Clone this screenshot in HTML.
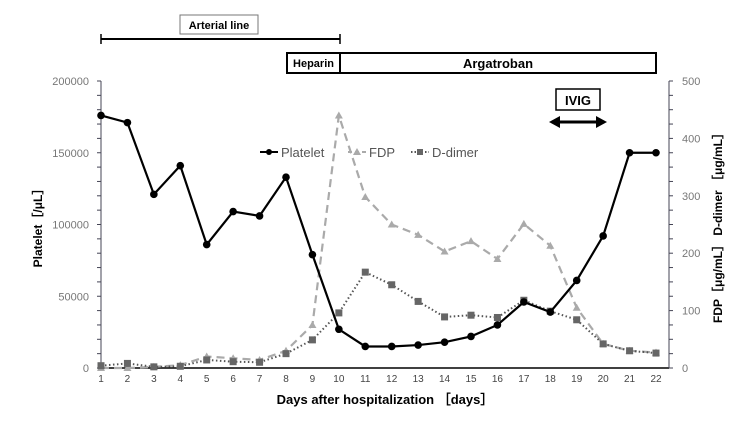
<!DOCTYPE html>
<html><head><meta charset="utf-8"><style>
body{margin:0;background:#fff;width:750px;height:422px;overflow:hidden}
svg{display:block;font-family:"Liberation Sans","DejaVu Sans",sans-serif}
</style></head><body>
<svg id="c" width="750" height="422">
<g>
<rect x="180" y="15" width="78" height="19" fill="#fff" stroke="#777" stroke-width="1"/>
<text x="219" y="29" font-size="11" font-weight="bold" text-anchor="middle">Arterial line</text>
<line x1="101" y1="39" x2="340" y2="39" stroke="#000" stroke-width="2"/>
<line x1="101" y1="34" x2="101" y2="44" stroke="#000" stroke-width="1.5"/>
<line x1="340" y1="34" x2="340" y2="44" stroke="#000" stroke-width="1.5"/>
</g>
<g>
<rect x="287" y="53" width="53" height="20" fill="#fff" stroke="#000" stroke-width="2"/>
<text x="313.5" y="67" font-size="11" font-weight="bold" text-anchor="middle">Heparin</text>
<rect x="340" y="53" width="316" height="20" fill="#fff" stroke="#000" stroke-width="2"/>
<text x="498" y="68" font-size="13" font-weight="bold" text-anchor="middle">Argatroban</text>
</g>
<g>
<rect x="556" y="89" width="44" height="21" fill="#fff" stroke="#000" stroke-width="1.5"/>
<text x="578" y="105" font-size="13" font-weight="bold" text-anchor="middle">IVIG</text>
<line x1="557" y1="122" x2="599" y2="122" stroke="#000" stroke-width="3"/>
<polygon points="549,122 560,116 560,128" fill="#000"/>
<polygon points="607,122 596,116 596,128" fill="#000"/>
</g>
<g font-size="13" fill="#555">
<line x1="260" y1="152" x2="278" y2="152" stroke="#000" stroke-width="2"/><circle cx="269" cy="152" r="3" fill="#000"/>
<text x="281" y="157">Platelet</text>
<line x1="348" y1="152" x2="366" y2="152" stroke="#aaa" stroke-width="2" stroke-dasharray="4,3"/><polygon points="357,148 361,155 353,155" fill="#aaa"/>
<text x="369" y="157">FDP</text>
<line x1="411" y1="152" x2="429" y2="152" stroke="#555" stroke-width="2" stroke-dasharray="1.5,2"/><rect x="417" y="149" width="6" height="6" fill="#666"/>
<text x="432" y="157">D-dimer</text>
</g>
<g id="axes"></g>
<g id="marks"></g>
<text transform="translate(42,225) rotate(-90)" font-size="12" font-weight="bold" text-anchor="middle">Platelet［/μL］</text>
<text transform="translate(722,225) rotate(-90)" font-size="12" font-weight="bold" text-anchor="middle">FDP［μg/mL］    D-dimer ［μg/mL］</text>
<text x="385" y="404" font-size="13" font-weight="bold" text-anchor="middle">Days after hospitalization ［days］</text>
</svg>
<script>
const days=[1,2,3,4,5,6,7,8,9,10,11,12,13,14,15,16,17,18,19,20,21,22];
const platelet=[176000,171000,121000,141000,86000,109000,106000,133000,79000,27000,15000,15000,16000,18000,22000,30000,46000,39000,61000,92000,150000,150000];
const fdp=[0,0,2,5,20,17,14,30,75,440,298,250,232,203,221,190,251,213,105,42,30,27];
const ddimer=[4,8,2,3,14,11,10,25,49,96,167,145,116,89,92,88,118,99,84,42,30,26];
const leftTicks=[0,50000,100000,150000,200000];
const rightTicks=[0,100,200,300,400,500];
const NS="http://www.w3.org/2000/svg";
const x0=101,x1=656,y0=368,y1=81;
const xs=d=>x0+(d-1)*(x1-x0)/21;
const yl=v=>y0-v/200000*(y0-y1);
const yr=v=>y0-v/500*(y0-y1);
function mk(t,a,p){const e=document.createElementNS(NS,t);for(const k in a)e.setAttribute(k,a[k]);p.appendChild(e);return e;}
const ax=document.getElementById('axes'),mg=document.getElementById('marks');
let e;
e=mk('line',{x1:x0,y1:y0,x2:669,y2:y0,stroke:'#000','stroke-width':1.5},ax);


e=mk('line',{x1:x0,y1:y1,x2:x0,y2:y0,stroke:'#445','stroke-width':1},ax);


e=mk('line',{x1:669,y1:y1,x2:669,y2:y0,stroke:'#445','stroke-width':1},ax);


for(let v=0;v<=200000;v+=10000){mk('line',{x1:x0-4,y1:yl(v),x2:x0,y2:yl(v),stroke:'#445'},ax);}
for(let v=0;v<=500;v+=25){mk('line',{x1:669,y1:yr(v),x2:673,y2:yr(v),stroke:'#445'},ax);}
leftTicks.forEach(v=>{e=mk('text',{x:x0-12,y:yl(v)+4,'font-size':11,fill:'#777','text-anchor':'end'},ax);e.textContent=v;

});
rightTicks.forEach(v=>{e=mk('text',{x:682,y:yr(v)+4,'font-size':11,fill:'#777'},ax);e.textContent=v;

});
days.forEach(d=>{e=mk('text',{x:xs(d),y:y0+14,'font-size':10,fill:'#444','text-anchor':'middle'},ax);e.textContent=d;

});
function pts(arr,f){return arr.map((v,i)=>xs(days[i])+','+f(v)).join(' ');}
e=mk('polyline',{points:pts(fdp,yr),fill:'none',stroke:'#aaa','stroke-width':2.2,'stroke-dasharray':'8,5'},mg);


fdp.forEach((v,i)=>{const x=xs(days[i]),y=yr(v);e=mk('polygon',{points:`${x},${y-4} ${x+4},${y+3} ${x-4},${y+3}`,fill:'#aaa'},mg);

});
e=mk('polyline',{points:pts(ddimer,yr),fill:'none',stroke:'#555','stroke-width':2,'stroke-dasharray':'1.5,2.5'},mg);


ddimer.forEach((v,i)=>{e=mk('rect',{x:xs(days[i])-3.5,y:yr(v)-3.5,width:7,height:7,fill:'#666'},mg);

});
e=mk('polyline',{points:pts(platelet,yl),fill:'none',stroke:'#000','stroke-width':2.2},mg);


platelet.forEach((v,i)=>{e=mk('circle',{cx:xs(days[i]),cy:yl(v),r:3.8,fill:'#000'},mg);

});
</script>
</body></html>
